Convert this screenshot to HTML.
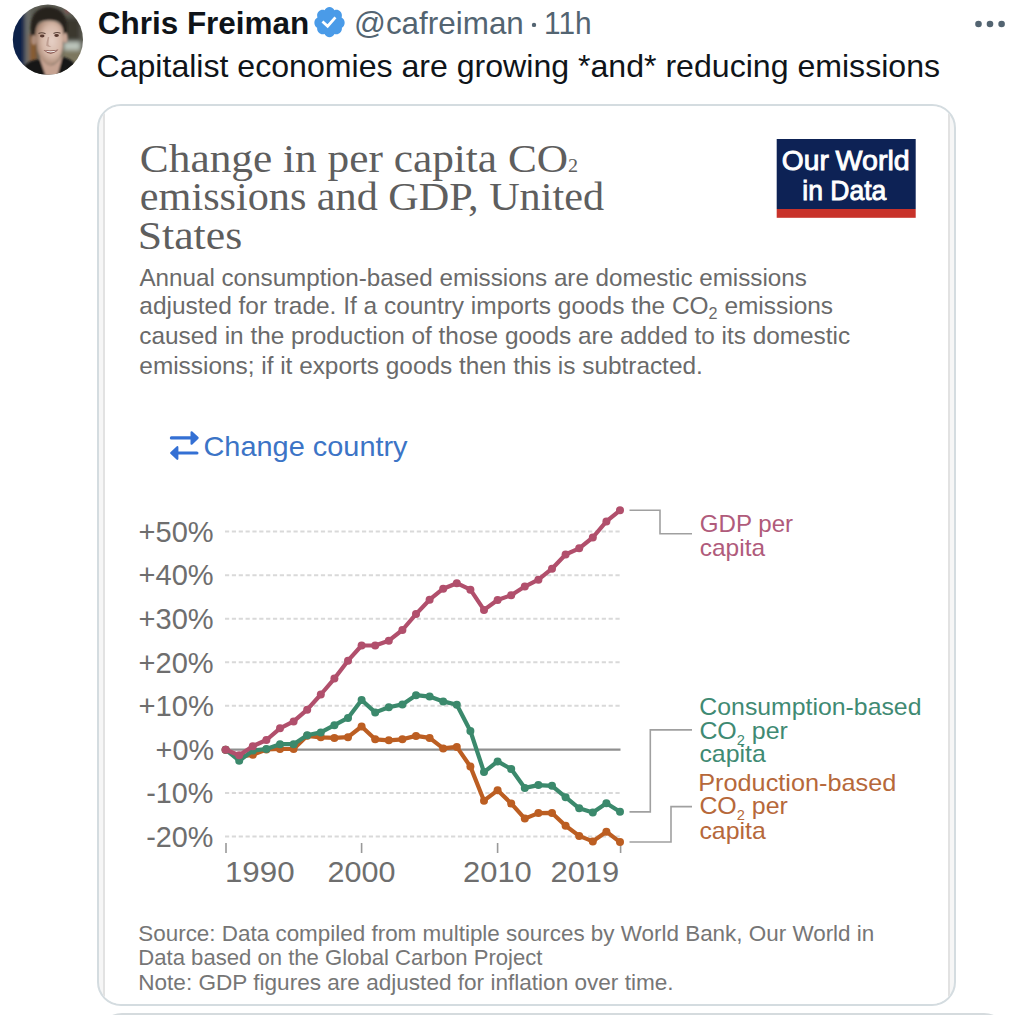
<!DOCTYPE html>
<html><head><meta charset="utf-8"><title>Chris Freiman tweet</title>
<style>
html,body{margin:0;padding:0;background:#fff;}
body{width:1024px;height:1015px;overflow:hidden;position:relative;font-family:"Liberation Sans",Arial,sans-serif;}
.abs{position:absolute;}
#card{position:absolute;left:96.5px;top:104px;width:855.2px;height:898px;border:2px solid #d4dce0;border-radius:24px;background:#f6f6f6;overflow:hidden;}
#img{position:absolute;left:4.1px;top:-10px;width:843px;height:1000px;background:#fff;border-left:2.4px solid #e2e2e2;border-right:2.4px solid #e2e2e2;}
#card2{position:absolute;left:98px;top:1012.6px;width:910px;height:60px;border-radius:24px;background:#d5dbde;}
</style></head>
<body>
<svg class="abs" style="left:12px;top:4px" width="72" height="72" viewBox="0 0 72 72">
 <defs>
  <clipPath id="av"><circle cx="35.9" cy="35.7" r="35.1"/></clipPath>
  <filter id="bl" x="-10%" y="-10%" width="120%" height="120%"><feGaussianBlur stdDeviation="0.8"/></filter>
  <filter id="bl3" x="-20%" y="-20%" width="140%" height="140%"><feGaussianBlur stdDeviation="0.45"/></filter>
  <filter id="bl2" x="-10%" y="-10%" width="120%" height="120%"><feGaussianBlur stdDeviation="2"/></filter>
  <radialGradient id="face" cx="0.58" cy="0.45" r="0.62"><stop offset="0" stop-color="#e6d0c6"/><stop offset="0.55" stop-color="#d6b8a8"/><stop offset="1" stop-color="#9c7a66"/></radialGradient>
 </defs>
 <g clip-path="url(#av)">
  <g filter="url(#bl2)">
   <rect x="-4" y="-4" width="80" height="80" fill="#5c5c53"/>
   <rect x="-4" y="-4" width="17.5" height="80" fill="#10234a"/>
   <rect x="13.3" y="-4" width="4.2" height="80" fill="#727671"/>
   <rect x="17.5" y="30" width="7" height="28" fill="#8a5a2c"/>
   <rect x="50" y="14" width="18" height="22" fill="#3a372e"/>
   <rect x="52" y="38" width="16" height="8" fill="#bcc5bb"/>
   <rect x="50" y="46" width="22" height="20" fill="#7b775f"/>
   <circle cx="55.5" cy="6.5" r="1.6" fill="#c04050"/>
  </g>
  <g filter="url(#bl)">
   <path d="M18.5 24 Q19 4 36 3 Q53 4 55 20 L55 34 L51.5 33 Q51.5 20 46 17 Q36 14.5 27 17.5 Q23 21 23 35 L19.5 34 Z" fill="#27231e"/>
   <ellipse cx="21.8" cy="36" rx="2.6" ry="5" fill="#ad8c7a"/>
   <ellipse cx="53.3" cy="34" rx="2.4" ry="5" fill="#c7a595"/>
   <path d="M23.5 30 Q23.5 16.5 37 16.5 Q51.5 16.5 51.5 30 L51 44 Q49.5 58 38.5 61.5 Q27.5 58 25 46 Z" fill="url(#face)"/>
   <path d="M27.5 52 L30 72 L48 72 L50 52 Q44 61 38.5 61.5 Q32 60 27.5 52 Z" fill="#c6a392"/>
   <path d="M6 76 L12 62 Q19 55 28 55.5 L34 73 Z" fill="#141417"/>
   <path d="M68 76 L63 60 Q57 53.5 50.5 53 L45 73 Z" fill="#141417"/>
  </g>
  <g filter="url(#bl3)">
   <path d="M26.5 29.5 Q30 27.8 33.5 29.8" stroke="#5e463c" stroke-width="1.1" fill="none"/>
   <path d="M41.5 29.5 Q45 27.5 48.5 29.3" stroke="#5e463c" stroke-width="1.1" fill="none"/>
   <ellipse cx="30.2" cy="32" rx="2.3" ry="1.4" fill="#5a3a30"/>
   <ellipse cx="44.6" cy="31.5" rx="2.3" ry="1.4" fill="#5a3a30"/>
   <path d="M35.8 33 Q34.3 38 34.2 41.8 Q36.5 43.6 39.5 42.6 Q36.8 42.2 36.4 40.5 Q36.6 37 37.2 33 Z" fill="#b8968a" opacity="0.8"/>
   <path d="M31.5 46 Q39 53.5 46.5 45.5 Q39 47.2 31.5 46 Z" fill="#7e4a44"/>
   <path d="M32.6 46.6 Q39 50.6 45.4 46.2 Q39 48.0 32.6 46.6 Z" fill="#f7f3ef"/>
  </g>
 </g>
</svg>

<div id="card"><div id="img"></div></div>
<div id="card2"></div>
<svg class="abs" style="left:0;top:0" width="1024" height="1015" viewBox="0 0 1024 1015">
<g fill="#536471"><circle cx="534" cy="24.9" r="2.2"/><circle cx="978.5" cy="24" r="3.3"/><circle cx="990" cy="24" r="3.3"/><circle cx="1001.6" cy="24" r="3.3"/></g>
<g transform="translate(312.2,4.74) scale(1.443)"><path fill="#4a9be8" d="M22.5 12.5c0-1.58-.875-2.95-2.148-3.6.154-.435.238-.905.238-1.4 0-2.210-1.71-3.998-3.818-3.998-.47 0-.92.084-1.336.25C14.818 2.415 13.51 1.5 12 1.5s-2.816.917-3.437 2.250c-.415-.165-.866-.25-1.336-.25-2.11 0-3.818 1.79-3.818 4 0 .494.083.964.237 1.4-1.272.65-2.147 2.018-2.147 3.6 0 1.495.782 2.798 1.942 3.486-.02.17-.032.34-.032.514 0 2.21 1.708 4 3.818 4 .47 0 .92-.086 1.335-.25.62 1.334 1.926 2.25 3.437 2.25 1.512 0 2.818-.916 3.437-2.25.415.163.865.248 1.336.248 2.11 0 3.818-1.79 3.818-4 0-.174-.012-.344-.033-.513 1.158-.687 1.943-1.99 1.943-3.484z"/><path fill="none" stroke="#fff" stroke-width="1.9" d="M7.1 11.6 L10.7 14.9 L16.1 8.7"/></g>
<rect x="776.7" y="139" width="139" height="70" fill="#0d2255"/>
<rect x="776.7" y="209" width="139" height="8.8" fill="#c8322a"/>
<g fill="#3470d4" stroke="#3470d4" stroke-linecap="round" stroke-linejoin="round">
<path d="M171.4 437.9 H191" stroke-width="3.2"/>
<path d="M191.6 432.3 L197.6 437.9 L191.6 443.7 Z" stroke-width="2.2"/>
<path d="M178 453 H196.9" stroke-width="3.2"/>
<path d="M177.3 447.2 L171.2 453 L177.3 458.8 Z" stroke-width="2.2"/>
</g>
<line x1="225" y1="531.5" x2="621" y2="531.5" stroke="#d9d9d9" stroke-width="2" stroke-dasharray="4.2,2.65"/>
<line x1="225" y1="575.2" x2="621" y2="575.2" stroke="#d9d9d9" stroke-width="2" stroke-dasharray="4.2,2.65"/>
<line x1="225" y1="618.8" x2="621" y2="618.8" stroke="#d9d9d9" stroke-width="2" stroke-dasharray="4.2,2.65"/>
<line x1="225" y1="662.3" x2="621" y2="662.3" stroke="#d9d9d9" stroke-width="2" stroke-dasharray="4.2,2.65"/>
<line x1="225" y1="705.8" x2="621" y2="705.8" stroke="#d9d9d9" stroke-width="2" stroke-dasharray="4.2,2.65"/>
<line x1="225" y1="793" x2="621" y2="793" stroke="#d9d9d9" stroke-width="2" stroke-dasharray="4.2,2.65"/>
<line x1="225" y1="836.5" x2="621" y2="836.5" stroke="#d9d9d9" stroke-width="2" stroke-dasharray="4.2,2.65"/>
<line x1="225" y1="749.6" x2="620.5" y2="749.6" stroke="#8f8f8f" stroke-width="2.3"/>


<line x1="226" y1="843" x2="226" y2="853" stroke="#999" stroke-width="1.6"/>
<line x1="361.6" y1="843" x2="361.6" y2="853" stroke="#999" stroke-width="1.6"/>
<line x1="497.6" y1="843" x2="497.6" y2="853" stroke="#999" stroke-width="1.6"/>
<line x1="620.6" y1="843" x2="620.6" y2="853" stroke="#999" stroke-width="1.6"/>


<polyline points="629.5,510.3 660,510.3 660,533.8 692,533.8" fill="none" stroke="#a0a0a0" stroke-width="1.6"/>
<polyline points="629.5,811.9 650.3,811.9 650.3,729.9 692,729.9" fill="none" stroke="#a0a0a0" stroke-width="1.6"/>
<polyline points="629.5,842 671,842 671,806.6 692,806.6" fill="none" stroke="#a0a0a0" stroke-width="1.6"/>

<g fill="#bc5e22"><polyline points="225.6,749.7 239.2,757.0 252.8,754.8 266.4,749.5 280.0,749.0 293.6,749.0 307.2,735.8 320.8,737.3 334.4,737.9 348.0,737.2 361.6,726.5 375.2,739.3 388.8,740.3 402.4,739.3 416.0,735.9 429.6,737.9 443.2,748.4 456.8,746.9 470.4,766.6 484.0,800.7 497.6,790.3 511.2,803.4 524.8,818.6 538.4,813.1 552.0,812.9 565.6,825.8 579.2,835.9 592.8,841.4 606.4,831.7 620.0,842.1" fill="none" stroke="#bc5e22" stroke-width="4.2" stroke-linejoin="round" stroke-linecap="round"/>
<circle cx="225.6" cy="749.7" r="4"/><circle cx="239.2" cy="757.0" r="4"/><circle cx="252.8" cy="754.8" r="4"/><circle cx="266.4" cy="749.5" r="4"/><circle cx="280.0" cy="749.0" r="4"/><circle cx="293.6" cy="749.0" r="4"/><circle cx="307.2" cy="735.8" r="4"/><circle cx="320.8" cy="737.3" r="4"/><circle cx="334.4" cy="737.9" r="4"/><circle cx="348.0" cy="737.2" r="4"/><circle cx="361.6" cy="726.5" r="4"/><circle cx="375.2" cy="739.3" r="4"/><circle cx="388.8" cy="740.3" r="4"/><circle cx="402.4" cy="739.3" r="4"/><circle cx="416.0" cy="735.9" r="4"/><circle cx="429.6" cy="737.9" r="4"/><circle cx="443.2" cy="748.4" r="4"/><circle cx="456.8" cy="746.9" r="4"/><circle cx="470.4" cy="766.6" r="4"/><circle cx="484.0" cy="800.7" r="4"/><circle cx="497.6" cy="790.3" r="4"/><circle cx="511.2" cy="803.4" r="4"/><circle cx="524.8" cy="818.6" r="4"/><circle cx="538.4" cy="813.1" r="4"/><circle cx="552.0" cy="812.9" r="4"/><circle cx="565.6" cy="825.8" r="4"/><circle cx="579.2" cy="835.9" r="4"/><circle cx="592.8" cy="841.4" r="4"/><circle cx="606.4" cy="831.7" r="4"/><circle cx="620.0" cy="842.1" r="4"/></g>

<g fill="#3b896c"><polyline points="225.6,749.7 239.2,760.7 252.8,750.5 266.4,749.0 280.0,744.2 293.6,744.2 307.2,735.3 320.8,732.4 334.4,725.2 348.0,717.9 361.6,700.0 375.2,712.4 388.8,707.2 402.4,704.4 416.0,695.2 429.6,696.6 443.2,701.4 456.8,704.8 470.4,731.0 484.0,772.1 497.6,761.4 511.2,769.0 524.8,787.9 538.4,785.1 552.0,785.8 565.6,797.2 579.2,808.3 592.8,812.4 606.4,803.2 620.0,811.7" fill="none" stroke="#3b896c" stroke-width="4.2" stroke-linejoin="round" stroke-linecap="round"/>
<circle cx="225.6" cy="749.7" r="4"/><circle cx="239.2" cy="760.7" r="4"/><circle cx="252.8" cy="750.5" r="4"/><circle cx="266.4" cy="749.0" r="4"/><circle cx="280.0" cy="744.2" r="4"/><circle cx="293.6" cy="744.2" r="4"/><circle cx="307.2" cy="735.3" r="4"/><circle cx="320.8" cy="732.4" r="4"/><circle cx="334.4" cy="725.2" r="4"/><circle cx="348.0" cy="717.9" r="4"/><circle cx="361.6" cy="700.0" r="4"/><circle cx="375.2" cy="712.4" r="4"/><circle cx="388.8" cy="707.2" r="4"/><circle cx="402.4" cy="704.4" r="4"/><circle cx="416.0" cy="695.2" r="4"/><circle cx="429.6" cy="696.6" r="4"/><circle cx="443.2" cy="701.4" r="4"/><circle cx="456.8" cy="704.8" r="4"/><circle cx="470.4" cy="731.0" r="4"/><circle cx="484.0" cy="772.1" r="4"/><circle cx="497.6" cy="761.4" r="4"/><circle cx="511.2" cy="769.0" r="4"/><circle cx="524.8" cy="787.9" r="4"/><circle cx="538.4" cy="785.1" r="4"/><circle cx="552.0" cy="785.8" r="4"/><circle cx="565.6" cy="797.2" r="4"/><circle cx="579.2" cy="808.3" r="4"/><circle cx="592.8" cy="812.4" r="4"/><circle cx="606.4" cy="803.2" r="4"/><circle cx="620.0" cy="811.7" r="4"/></g>

<g fill="#b14f6c"><polyline points="225.6,749.7 239.2,755.2 252.8,746.2 266.4,740.0 280.0,728.3 293.6,721.4 307.2,709.7 320.8,694.5 334.4,678.6 348.0,660.7 361.6,645.5 375.2,645.5 388.8,640.7 402.4,630.0 416.0,614.1 429.6,599.7 443.2,588.7 456.8,583.2 470.4,589.7 484.0,609.9 497.6,600.0 511.2,595.2 524.8,586.6 538.4,579.7 552.0,568.7 565.6,554.5 579.2,548.3 592.8,537.5 606.4,521.4 620.0,510.3" fill="none" stroke="#b14f6c" stroke-width="4.2" stroke-linejoin="round" stroke-linecap="round"/>
<circle cx="225.6" cy="749.7" r="4"/><circle cx="239.2" cy="755.2" r="4"/><circle cx="252.8" cy="746.2" r="4"/><circle cx="266.4" cy="740.0" r="4"/><circle cx="280.0" cy="728.3" r="4"/><circle cx="293.6" cy="721.4" r="4"/><circle cx="307.2" cy="709.7" r="4"/><circle cx="320.8" cy="694.5" r="4"/><circle cx="334.4" cy="678.6" r="4"/><circle cx="348.0" cy="660.7" r="4"/><circle cx="361.6" cy="645.5" r="4"/><circle cx="375.2" cy="645.5" r="4"/><circle cx="388.8" cy="640.7" r="4"/><circle cx="402.4" cy="630.0" r="4"/><circle cx="416.0" cy="614.1" r="4"/><circle cx="429.6" cy="599.7" r="4"/><circle cx="443.2" cy="588.7" r="4"/><circle cx="456.8" cy="583.2" r="4"/><circle cx="470.4" cy="589.7" r="4"/><circle cx="484.0" cy="609.9" r="4"/><circle cx="497.6" cy="600.0" r="4"/><circle cx="511.2" cy="595.2" r="4"/><circle cx="524.8" cy="586.6" r="4"/><circle cx="538.4" cy="579.7" r="4"/><circle cx="552.0" cy="568.7" r="4"/><circle cx="565.6" cy="554.5" r="4"/><circle cx="579.2" cy="548.3" r="4"/><circle cx="592.8" cy="537.5" r="4"/><circle cx="606.4" cy="521.4" r="4"/><circle cx="620.0" cy="510.3" r="4"/></g>

<text id="name" x="97.74" y="34.3" font-size="32" style="font-family:'Liberation Sans',Arial,sans-serif" fill="#0f1419" font-weight="bold" textLength="211.53" lengthAdjust="spacingAndGlyphs">Chris Freiman</text>
<text id="handle" x="354.03" y="33.6" font-size="31.5" style="font-family:'Liberation Sans',Arial,sans-serif" fill="#536471" font-weight="normal" textLength="169.84" lengthAdjust="spacingAndGlyphs">@cafreiman</text>
<text id="hours" x="544.07" y="33.6" font-size="31.5" style="font-family:'Liberation Sans',Arial,sans-serif" fill="#536471" font-weight="normal" textLength="47.55" lengthAdjust="spacingAndGlyphs">11h</text>
<text id="tweet" x="96.50" y="77.3" font-size="32" style="font-family:'Liberation Sans',Arial,sans-serif" fill="#0f1419" font-weight="normal" textLength="843.54" lengthAdjust="spacingAndGlyphs">Capitalist economies are growing *and* reducing emissions</text>
<text id="title1" x="139.87" y="171.6" font-size="41" style="font-family:'Liberation Serif','Times New Roman',serif" fill="#5e5e5e" font-weight="normal" textLength="438.30" lengthAdjust="spacingAndGlyphs">Change in per capita CO<tspan font-size="19">2</tspan></text>
<text id="title2" x="139.89" y="209.5" font-size="41" style="font-family:'Liberation Serif','Times New Roman',serif" fill="#5e5e5e" font-weight="normal" textLength="464.11" lengthAdjust="spacingAndGlyphs">emissions and GDP, United</text>
<text id="title3" x="137.74" y="248.5" font-size="41" style="font-family:'Liberation Serif','Times New Roman',serif" fill="#5e5e5e" font-weight="normal" textLength="104.42" lengthAdjust="spacingAndGlyphs">States</text>
<text id="logo1" x="781.82" y="169.8" font-size="28" style="font-family:'Liberation Sans',Arial,sans-serif" fill="#ffffff" font-weight="normal" textLength="47.00" lengthAdjust="spacingAndGlyphs" stroke="#ffffff" stroke-width="0.9">Our</text>
<text id="logo1b" x="835.55" y="169.8" font-size="28" style="font-family:'Liberation Sans',Arial,sans-serif" fill="#ffffff" font-weight="normal" textLength="74.15" lengthAdjust="spacingAndGlyphs" stroke="#ffffff" stroke-width="0.9">World</text>
<text id="logo2" x="802.26" y="200.2" font-size="28" style="font-family:'Liberation Sans',Arial,sans-serif" fill="#ffffff" font-weight="normal" textLength="84.06" lengthAdjust="spacingAndGlyphs" stroke="#ffffff" stroke-width="0.9">in Data</text>
<text id="sub1" x="139.40" y="285.6" font-size="24.2" style="font-family:'Liberation Sans',Arial,sans-serif" fill="#6a6a6a" font-weight="normal" textLength="667.47" lengthAdjust="spacingAndGlyphs">Annual consumption-based emissions are domestic emissions</text>
<text id="sub2" x="139.36" y="314.2" font-size="24.2" style="font-family:'Liberation Sans',Arial,sans-serif" fill="#6a6a6a" font-weight="normal" textLength="693.73" lengthAdjust="spacingAndGlyphs">adjusted for trade. If a country imports goods the CO<tspan font-size="16" dy="5">2</tspan><tspan dy="-5"> emissions</tspan></text>
<text id="sub3" x="139.37" y="344.2" font-size="24.2" style="font-family:'Liberation Sans',Arial,sans-serif" fill="#6a6a6a" font-weight="normal" textLength="710.79" lengthAdjust="spacingAndGlyphs">caused in the production of those goods are added to its domestic</text>
<text id="sub4" x="139.37" y="373.5" font-size="24.2" style="font-family:'Liberation Sans',Arial,sans-serif" fill="#6a6a6a" font-weight="normal" textLength="563.40" lengthAdjust="spacingAndGlyphs">emissions; if it exports goods then this is subtracted.</text>
<text id="chg" x="203.51" y="456.4" font-size="28.3" style="font-family:'Liberation Sans',Arial,sans-serif" fill="#3c74c6" font-weight="normal" textLength="204.08" lengthAdjust="spacingAndGlyphs">Change country</text>
<text id="foot1" x="138.27" y="940.6" font-size="21.2" style="font-family:'Liberation Sans',Arial,sans-serif" fill="#767676" font-weight="normal" textLength="736.01" lengthAdjust="spacingAndGlyphs">Source: Data compiled from multiple sources by World Bank, Our World in</text>
<text id="foot2" x="138.29" y="965" font-size="21.2" style="font-family:'Liberation Sans',Arial,sans-serif" fill="#767676" font-weight="normal" textLength="404.14" lengthAdjust="spacingAndGlyphs">Data based on the Global Carbon Project</text>
<text id="foot3" x="138.26" y="989.5" font-size="21.2" style="font-family:'Liberation Sans',Arial,sans-serif" fill="#767676" font-weight="normal" textLength="535.30" lengthAdjust="spacingAndGlyphs">Note: GDP figures are adjusted for inflation over time.</text>
<text id="gdp1" x="699.75" y="532.2" font-size="23.8" style="font-family:'Liberation Sans',Arial,sans-serif" fill="#b05b7b" font-weight="normal" textLength="93.33" lengthAdjust="spacingAndGlyphs">GDP per</text>
<text id="gdp2" x="699.73" y="555.6" font-size="23.8" style="font-family:'Liberation Sans',Arial,sans-serif" fill="#b05b7b" font-weight="normal" textLength="65.34" lengthAdjust="spacingAndGlyphs">capita</text>
<text id="c1" x="699.37" y="714.6" font-size="23.8" style="font-family:'Liberation Sans',Arial,sans-serif" fill="#3f8a73" font-weight="normal" textLength="222.13" lengthAdjust="spacingAndGlyphs">Consumption-based</text>
<text id="c2" x="699.40" y="739.2" font-size="23.8" style="font-family:'Liberation Sans',Arial,sans-serif" fill="#3f8a73" font-weight="normal" textLength="88.44" lengthAdjust="spacingAndGlyphs">CO<tspan font-size="14" dy="5.5">2</tspan><tspan dy="-5.5"> per</tspan></text>
<text id="c3" x="699.40" y="761.5" font-size="23.8" style="font-family:'Liberation Sans',Arial,sans-serif" fill="#3f8a73" font-weight="normal" textLength="66.34" lengthAdjust="spacingAndGlyphs">capita</text>
<text id="p1" x="698.26" y="791.2" font-size="23.8" style="font-family:'Liberation Sans',Arial,sans-serif" fill="#b6683a" font-weight="normal" textLength="198.03" lengthAdjust="spacingAndGlyphs">Production-based</text>
<text id="p2" x="699.40" y="814.2" font-size="23.8" style="font-family:'Liberation Sans',Arial,sans-serif" fill="#b6683a" font-weight="normal" textLength="88.44" lengthAdjust="spacingAndGlyphs">CO<tspan font-size="14" dy="5.5">2</tspan><tspan dy="-5.5"> per</tspan></text>
<text id="y50" x="138.59" y="541.7" font-size="30" style="font-family:'Liberation Sans',Arial,sans-serif" fill="#6e6e6e" font-weight="normal" textLength="75.11" lengthAdjust="spacingAndGlyphs">+50%</text>
<text id="y40" x="138.59" y="585.4" font-size="30" style="font-family:'Liberation Sans',Arial,sans-serif" fill="#6e6e6e" font-weight="normal" textLength="75.11" lengthAdjust="spacingAndGlyphs">+40%</text>
<text id="y30" x="138.59" y="629.0" font-size="30" style="font-family:'Liberation Sans',Arial,sans-serif" fill="#6e6e6e" font-weight="normal" textLength="75.11" lengthAdjust="spacingAndGlyphs">+30%</text>
<text id="y20" x="138.59" y="672.5" font-size="30" style="font-family:'Liberation Sans',Arial,sans-serif" fill="#6e6e6e" font-weight="normal" textLength="75.11" lengthAdjust="spacingAndGlyphs">+20%</text>
<text id="y10" x="138.41" y="716.0" font-size="30" style="font-family:'Liberation Sans',Arial,sans-serif" fill="#6e6e6e" font-weight="normal" textLength="75.43" lengthAdjust="spacingAndGlyphs">+10%</text>
<text id="y0" x="155.62" y="759.7" font-size="30" style="font-family:'Liberation Sans',Arial,sans-serif" fill="#6e6e6e" font-weight="normal" textLength="58.39" lengthAdjust="spacingAndGlyphs">+0%</text>
<text id="ym10" x="146.27" y="803.2" font-size="30" style="font-family:'Liberation Sans',Arial,sans-serif" fill="#6e6e6e" font-weight="normal" textLength="67.19" lengthAdjust="spacingAndGlyphs">-10%</text>
<text id="ym20" x="146.27" y="846.7" font-size="30" style="font-family:'Liberation Sans',Arial,sans-serif" fill="#6e6e6e" font-weight="normal" textLength="67.19" lengthAdjust="spacingAndGlyphs">-20%</text>
<text id="x1990" x="224.95" y="882.3" font-size="29" style="font-family:'Liberation Sans',Arial,sans-serif" fill="#6e6e6e" font-weight="normal" textLength="69.64" lengthAdjust="spacingAndGlyphs">1990</text>
<text id="x2000" x="327.55" y="882.3" font-size="29" style="font-family:'Liberation Sans',Arial,sans-serif" fill="#6e6e6e" font-weight="normal" textLength="67.88" lengthAdjust="spacingAndGlyphs">2000</text>
<text id="x2010" x="463.12" y="882.3" font-size="29" style="font-family:'Liberation Sans',Arial,sans-serif" fill="#6e6e6e" font-weight="normal" textLength="68.69" lengthAdjust="spacingAndGlyphs">2010</text>
<text id="x2019" x="550.48" y="882.3" font-size="29" style="font-family:'Liberation Sans',Arial,sans-serif" fill="#6e6e6e" font-weight="normal" textLength="68.69" lengthAdjust="spacingAndGlyphs">2019</text>
<text id="p3" x="699.40" y="838.8" font-size="23.8" style="font-family:'Liberation Sans',Arial,sans-serif" fill="#b6683a" font-weight="normal" textLength="66.34" lengthAdjust="spacingAndGlyphs">capita</text>

</svg>
</body></html>
